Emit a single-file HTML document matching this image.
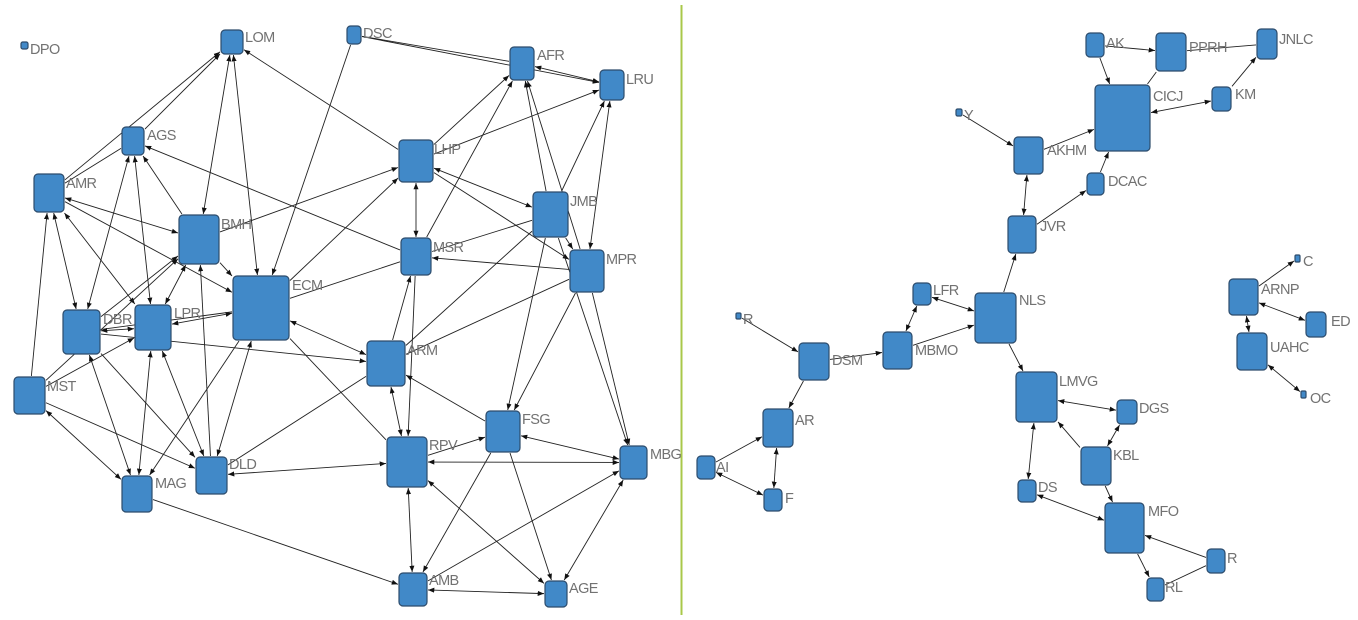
<!DOCTYPE html>
<html><head><meta charset="utf-8"><style>
html,body{margin:0;padding:0;background:#fff;}
svg{display:block}
text{font-family:"Liberation Sans",sans-serif;font-size:14.5px;fill:#727272;letter-spacing:-0.6px}
.n{fill:#4189c8;stroke:#2d4c6c;stroke-width:1.2}
#edges line{stroke:#222;stroke-width:0.9}
</style></head><body>
<svg id="s" width="1358" height="620" viewBox="0 0 1358 620">
<defs>
<marker id="a" viewBox="0 0 10 10" refX="10" refY="5" markerWidth="7" markerHeight="7" orient="auto-start-reverse"><path d="M0,1 L10,5 L0,9 z" fill="#111"/></marker>
</defs>
<line x1="681.5" y1="5" x2="681.5" y2="615" stroke="#a9c84a" stroke-width="2"/>
<g id="edges"></g>
<g id="nodes"></g>
<g id="labels">
<text x="30" y="54">DPO</text><text x="245" y="42">LOM</text><text x="363" y="38">DSC</text>
<text x="537" y="60">AFR</text><text x="626" y="84">LRU</text><text x="147" y="140">AGS</text>
<text x="66" y="188">AMR</text><text x="434" y="154">LHP</text><text x="570" y="206">JMB</text>
<text x="221" y="229">BMH</text><text x="433" y="252">MSR</text><text x="606" y="264">MPR</text>
<text x="292" y="290">ECM</text><text x="103" y="324">DBR</text><text x="174" y="318">LPR</text>
<text x="47" y="391">MST</text><text x="407" y="355">ARM</text><text x="522" y="424">FSG</text>
<text x="429" y="450">RPV</text><text x="650" y="459">MBG</text><text x="229" y="469">DLD</text>
<text x="155" y="488">MAG</text><text x="429" y="585">AMB</text><text x="569" y="593">AGE</text>
<text x="1106" y="48">AK</text><text x="1189" y="52">PPRH</text><text x="1279" y="44">JNLC</text>
<text x="1153" y="101">CICJ</text><text x="1235" y="99">KM</text><text x="964" y="120">Y</text>
<text x="1047" y="155">AKHM</text><text x="1108" y="186">DCAC</text><text x="1040" y="231">JVR</text>
<text x="1303" y="266">C</text><text x="1261" y="294">ARNP</text><text x="933" y="295">LFR</text>
<text x="1019" y="305">NLS</text><text x="743" y="324">R</text><text x="1331" y="326">ED</text>
<text x="915" y="355">MBMO</text><text x="1270" y="352">UAHC</text><text x="832" y="365">DSM</text>
<text x="1059" y="386">LMVG</text><text x="1139" y="413">DGS</text><text x="795" y="425">AR</text>
<text x="1113" y="460">KBL</text><text x="716" y="472">AI</text><text x="1038" y="492">DS</text>
<text x="785" y="503">F</text><text x="1148" y="516">MFO</text><text x="1227" y="563">R</text>
<text x="1165" y="592">RL</text><text x="1310" y="403">OC</text>
</g>
</svg>
<script>
var N={DPO:[21,42,7,7],LOM:[221,30,22,24],DSC:[347,26,14,18],AFR:[510,47,24,33],LRU:[600,70,24,30],AGS:[122,127,22,28],AMR:[34,174,30,38],LHP:[399,140,34,42],JMB:[533,192,35,45],BMH:[179,215,40,49],MSR:[401,238,30,37],MPR:[570,250,34,42],ECM:[233,276,56,64],DBR:[63,310,37,44],LPR:[135,305,36,45],MST:[14,377,31,37],ARM:[367,341,38,45],FSG:[486,411,34,41],RPV:[387,437,40,50],MBG:[620,446,27,33],DLD:[196,457,31,37],MAG:[122,476,30,36],AMB:[399,573,28,33],AGE:[545,581,22,26],
AK:[1086,33,18,24],PPRH:[1156,33,30,38],JNLC:[1257,29,20,30],CICJ:[1095,85,55,66],KM:[1212,87,19,24],Y:[956,109,6,7],AKHM:[1014,137,29,37],DCAC:[1087,173,17,22],JVR:[1008,216,28,37],C:[1295,255,5,7],ARNP:[1229,279,29,36],LFR:[913,283,18,22],NLS:[975,293,41,50],R1:[736,313,5,6],ED:[1306,312,20,25],MBMO:[883,332,29,37],UAHC:[1237,333,30,37],DSM:[799,343,30,37],LMVG:[1016,372,41,50],OC:[1301,391,5,7],DGS:[1117,400,20,24],AR:[763,409,30,38],KBL:[1081,447,30,38],AI:[697,456,18,23],DS:[1018,480,18,22],F:[764,489,18,22],MFO:[1105,503,39,50],R2:[1207,549,18,24],RL:[1147,578,17,23]};
var E="AMR LOM e,AGS LOM e,AMR AGS n,BMH LOM b,ECM LOM b,LHP LOM e,DSC ECM e,DSC LRU e,DSC AFR n,AFR LRU b,LHP AFR e,LHP LRU e,MSR AFR e,JMB AFR e,MPR AFR e,JMB LRU e,MPR LRU b,MSR AGS e,LHP MSR b,LHP JMB b,LHP MPR e,JMB MPR e,JMB MSR n,MPR MSR e,BMH LHP e,ECM LHP e,ECM MSR n,AMR BMH b,AMR ECM e,AMR DBR b,AMR LPR b,MST AMR e,AGS DBR b,AGS LPR b,BMH AGS e,BMH ECM e,DBR BMH e,BMH LPR b,MST BMH e,DLD BMH e,ECM ARM b,ECM LPR b,ECM DBR n,ECM DLD b,ECM MAG e,ECM RPV n,DBR LPR b,DBR MAG b,DBR DLD e,DBR ARM e,LPR DLD b,LPR MAG b,MST LPR e,MST MAG b,MST DLD e,ARM MSR e,MSR RPV e,ARM RPV b,FSG ARM e,ARM JMB n,ARM MPR n,DLD ARM n,JMB FSG e,MPR FSG e,MPR MBG e,JMB MBG e,RPV FSG e,RPV DLD b,RPV MBG b,FSG MBG b,RPV AMB b,FSG AMB e,FSG AGE e,RPV AGE b,MBG AGE b,AMB MBG e,AMB AGE b,MAG AMB e,AK PPRH e,AK CICJ e,PPRH CICJ n,PPRH JNLC n,KM JNLC e,CICJ KM b,Y AKHM e,AKHM JVR b,AKHM CICJ e,DCAC CICJ e,JVR DCAC e,NLS JVR e,LFR NLS b,LFR MBMO b,MBMO NLS e,DSM MBMO e,R1 DSM e,DSM AR e,AI AR e,AR F b,AI F b,NLS LMVG e,LMVG DGS b,LMVG DS b,KBL LMVG e,DGS KBL b,KBL MFO e,DS MFO b,R2 MFO e,MFO RL e,R2 RL n,ARNP C e,ARNP UAHC b,ARNP ED b,UAHC OC b".split(",");
var ns="http://www.w3.org/2000/svg",eg=document.getElementById("edges"),ng=document.getElementById("nodes");
function c(k){var n=N[k];return[n[0]+n[2]/2,n[1]+n[3]/2];}
function clip(k,dx,dy){var n=N[k],hw=n[2]/2+1,hh=n[3]/2+1,t=Math.min(dx?hw/Math.abs(dx):1e9,dy?hh/Math.abs(dy):1e9);var p=c(k);return[p[0]+dx*t,p[1]+dy*t];}
E.forEach(function(s){var p=s.split(" "),a=c(p[0]),b=c(p[1]),dx=b[0]-a[0],dy=b[1]-a[1];
var A=clip(p[0],dx,dy),B=clip(p[1],-dx,-dy);var l=document.createElementNS(ns,"line");
l.setAttribute("x1",A[0]);l.setAttribute("y1",A[1]);l.setAttribute("x2",B[0]);l.setAttribute("y2",B[1]);
if(p[2]=="e"||p[2]=="b")l.setAttribute("marker-end","url(#a)");if(p[2]=="b")l.setAttribute("marker-start","url(#a)");eg.appendChild(l);});
for(var k in N){var n=N[k],r=document.createElementNS(ns,"rect");r.setAttribute("x",n[0]);r.setAttribute("y",n[1]);r.setAttribute("width",n[2]);r.setAttribute("height",n[3]);r.setAttribute("rx",Math.min(4,n[2]/4));r.setAttribute("class","n");ng.appendChild(r);}
</script>
</body></html>
